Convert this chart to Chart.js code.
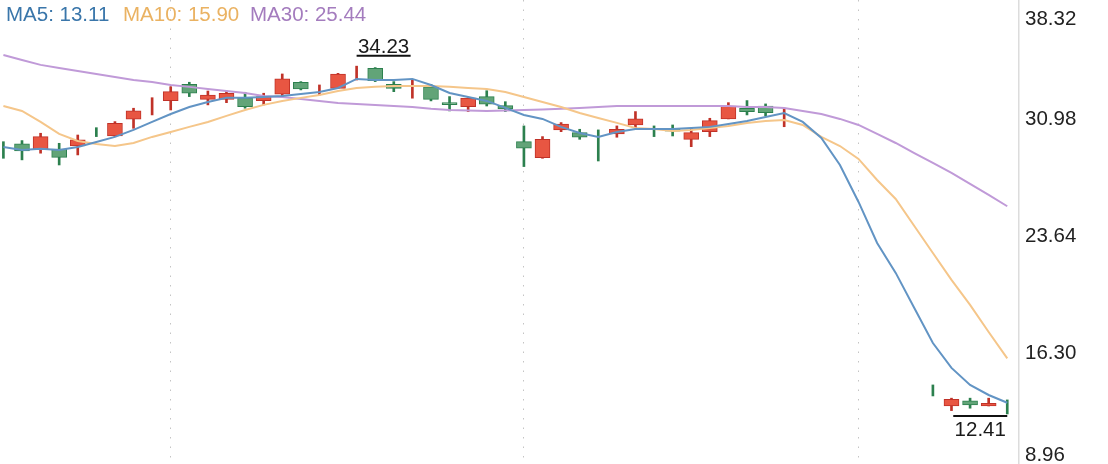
<!DOCTYPE html>
<html><head><meta charset="utf-8">
<script src="https://cdn.jsdelivr.net/npm/chart.js@4/dist/chart.umd.min.js"></script>
<style>html,body{margin:0;padding:0;background:#fff;overflow:hidden}canvas{display:block}</style>
</head><body>
<canvas id="c" width="1108" height="464"></canvas>
<script>
// ---- data (trading-day index 0..54; days 43-49 have no candle shown) ----
const days = Array.from({length: 55}, (_, i) => i);
const open  = [null,29.35,29.02,29.02,29.22,null,29.85,30.90,null,32.06, 33.09,32.15,32.15,32.25,32.06,32.47,33.22,null,32.84,null, 34.10,33.09,null,32.94,31.86,31.69,32.32,31.75,29.49,28.49, 30.23,30.06,null,29.98,30.54,null,30.18,29.64,30.12,30.92, 31.59,31.73,null,null,null,null,null,null,null,null, null,12.91,13.24,12.91,null];
const high  = [29.49,29.56,30.02,29.39,29.91,30.37,30.75,31.59,32.25,32.94, 33.22,32.67,32.67,32.59,32.53,33.74,33.26,33.05,33.78,34.23, 34.14,33.26,33.36,33.09,32.32,32.25,32.69,32.00,30.48,29.81, 30.69,30.27,30.23,30.48,31.38,30.48,30.54,30.33,30.96,31.94, 32.07,31.86,31.59,null,null,null,null,null,null,null, 14.23,13.40,13.40,13.40,13.29];
const low   = [28.45,28.35,28.77,28.03,28.66,29.81,29.81,30.33,31.17,31.48, 32.32,31.80,31.94,31.59,31.80,32.32,32.74,32.42,32.84,33.36, 33.26,32.63,32.22,32.05,31.42,31.38,31.73,31.38,27.93,28.45, 30.12,29.64,28.28,29.77,30.33,29.81,29.85,29.18,29.81,30.92, 31.17,31.11,30.43,null,null,null,null,null,null,null, 13.54,12.62,12.77,12.91,12.41];
const close = [null,28.91,29.81,28.51,29.60,null,30.65,31.42,null,32.63, 32.53,32.42,32.53,31.69,32.32,33.43,32.80,null,33.74,null, 33.32,32.84,null,32.15,31.82,32.22,31.84,31.55,29.08,29.64, 30.60,29.77,null,30.27,30.92,null,30.15,30.06,30.81,31.73, 31.38,31.31,null,null,null,null,null,null,null,null, null,13.33,12.98,13.08,null];
const dir   = ['d','d','u','d','u','d','u','u','u','u', 'd','u','u','d','u','u','d','u','u','u', 'd','d','u','d','d','u','d','d','d','u', 'u','d','d','u','u','d','d','u','u','u', 'd','d','u',null,null,null,null,null,null,null, 'd','u','d','u','d'];
const ma5   = [29.16,28.97,29.04,28.97,29.16,29.47,29.79,30.23,30.73,31.23, 31.67,31.98,32.24,32.24,32.30,32.36,32.49,32.61,32.86,33.43, 33.36,33.36,33.43,33.05,32.55,32.30,32.05,31.61,31.17,30.92, 30.42,30.04,29.79,30.10,30.29,30.29,30.29,30.35,30.42,30.60, 30.79,31.04,31.29,30.73,29.73,28.03,25.71,23.14,21.26,19.06, 16.86,15.30,14.23,13.60,13.11];
const ma10  = [31.73,31.42,30.73,29.98,29.54,29.35,29.22,29.41,29.79,30.10, 30.42,30.73,31.11,31.48,31.80,32.05,32.24,32.42,32.67,32.86, 32.93,32.99,32.99,32.99,32.93,32.86,32.80,32.61,32.30,31.98, 31.67,31.29,30.98,30.67,30.35,30.29,30.16,30.23,30.35,30.48, 30.67,30.79,30.85,30.54,29.79,29.22,28.41,27.09,25.90,24.20, 22.51,20.82,19.25,17.55,15.90];
const ma30  = [34.93,34.62,34.31,34.12,33.93,33.74,33.55,33.36,33.24,33.05, 32.93,32.80,32.67,32.55,32.36,32.30,32.17,32.05,31.92,31.86, 31.80,31.73,31.67,31.55,31.48,31.45,31.42,31.45,31.48,31.51, 31.55,31.61,31.67,31.73,31.73,31.73,31.73,31.73,31.73,31.73, 31.67,31.67,31.61,31.42,31.23,30.92,30.54,29.98,29.41,28.78, 28.16,27.53,26.84,26.15,25.44];
const yTicks = [38.32, 30.98, 23.64, 16.30, 8.96];
const gridDays = [9, 28, 46];

// ---- styles ----
const FONT = '20.5px "Liberation Sans", Arial, sans-serif';
const UP_FILL = 'rgb(232,86,66)', UP_LINE = 'rgb(192,50,40)';
const DN_FILL = 'rgb(98,164,120)', DN_LINE = 'rgb(44,128,78)';
const C5 = 'rgb(98,148,196)', C10 = 'rgb(245,198,138)', C30 = 'rgb(192,154,216)';
const T5 = 'rgb(58,118,170)', T10 = 'rgb(234,178,98)', T30 = 'rgb(164,124,190)';

const wickIdx = days.filter(i => high[i] !== null);
const bodyIdx = days.filter(i => open[i] !== null);

const overlay = {
  id: 'overlay',
  afterDraw(chart) {
    const {ctx, chartArea, scales: {x, y}} = chart;
    ctx.save();
    ctx.font = FONT;
    // y-axis labels (clamped inside canvas)
    ctx.fillStyle = '#222';
    ctx.textAlign = 'left';
    ctx.textBaseline = 'alphabetic';
    yTicks.forEach(v => {
      let py = y.getPixelForValue(v);
      py = Math.min(Math.max(py, chartArea.top + 18), chartArea.bottom - 10.5);
      ctx.fillText(v.toFixed(2), chartArea.right + 6, py + 7.4);
    });
    // MA legend
    const last = days.length - 1;
    [['MA5: ' + ma5[last].toFixed(2), T5, 6], ['MA10: ' + ma10[last].toFixed(2), T10, 123], ['MA30: ' + ma30[last].toFixed(2), T30, 250]]
      .forEach(([t, c, px]) => { ctx.fillStyle = c; ctx.fillText(t, px, 21); });
    // max / min markers
    let hi = -Infinity, hiI = 0, lo = Infinity, loI = 0;
    days.forEach(i => {
      if (high[i] !== null && high[i] > hi) { hi = high[i]; hiI = i; }
      if (low[i] !== null && low[i] < lo) { lo = low[i]; loI = i; }
    });
    const marker = (i, v, above) => {
      const px = x.getPixelForValue(i), py = y.getPixelForValue(v);
      const len = 54;
      const x0 = (px + len > chartArea.right - 4) ? px - len : px;
      const ly = above ? py - 10.5 : py + 2;
      ctx.strokeStyle = '#111'; ctx.lineWidth = 2;
      ctx.beginPath(); ctx.moveTo(x0, ly); ctx.lineTo(x0 + len, ly); ctx.stroke();
      ctx.fillStyle = '#1a1a1a'; ctx.textAlign = 'center';
      ctx.fillText(v.toFixed(2), x0 + len / 2, above ? ly - 2.5 : ly + 20);
    };
    marker(hiI, hi, true);
    marker(loI, lo, false);
    ctx.restore();
  }
};

new Chart(document.getElementById('c'), {
  type: 'bar',
  data: {
    datasets: [
      { type: 'line', data: days.map(i => ({x: i, y: ma5[i]})), borderColor: C5, borderWidth: 2, pointRadius: 0, tension: 0, order: 1 },
      { type: 'line', data: days.map(i => ({x: i, y: ma10[i]})), borderColor: C10, borderWidth: 2, pointRadius: 0, tension: 0, order: 1.1 },
      { type: 'line', data: days.map(i => ({x: i, y: ma30[i]})), borderColor: C30, borderWidth: 2, pointRadius: 0, tension: 0, order: 1.2 },
      { type: 'bar', data: bodyIdx.map(i => ({x: i, y: [open[i], close[i]]})),
        backgroundColor: bodyIdx.map(i => dir[i] === 'u' ? UP_FILL : DN_FILL),
        borderColor: bodyIdx.map(i => dir[i] === 'u' ? UP_LINE : DN_LINE),
        borderWidth: 1, borderSkipped: false, barThickness: 15, minBarLength: 2, grouped: false, order: 2 },
      { type: 'bar', data: wickIdx.map(i => ({x: i, y: [low[i], high[i]]})),
        backgroundColor: wickIdx.map(i => dir[i] === 'u' ? UP_LINE : DN_LINE),
        borderWidth: 0, barThickness: 2, grouped: false, order: 3 }
    ]
  },
  options: {
    responsive: false,
    animation: false,
    devicePixelRatio: 1,
    layout: { padding: 0 },
    plugins: { legend: { display: false }, tooltip: { enabled: false } },
    scales: {
      x: {
        type: 'linear', min: -0.183, max: 54.632, offset: false,
        ticks: { display: false },
        grid: { display: true, drawTicks: false, offset: false, color: '#c4c4c4', lineWidth: 1 },
        border: { display: false, dash: [1.5, 8] },
        afterBuildTicks: s => { s.ticks = gridDays.map(v => ({value: v})); },
        afterFit: s => { s.height = 0; }
      },
      y: {
        position: 'right', min: 9.27, max: 38.38, beginAtZero: false,
        ticks: { display: false },
        grid: { drawOnChartArea: false, drawTicks: false },
        border: { display: true, color: '#dcdcdc', width: 1.5 },
        afterFit: s => { s.width = 89; }
      }
    }
  },
  plugins: [overlay]
});
</script>
</body></html>
